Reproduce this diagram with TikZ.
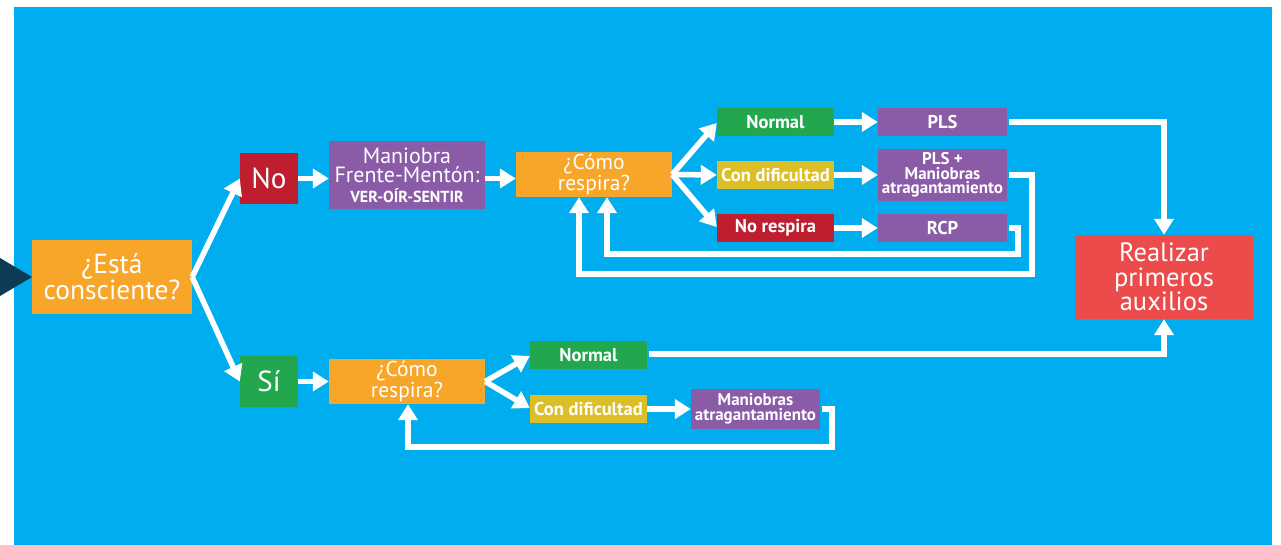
\documentclass[tikz,border=0pt]{standalone}
\usepackage{fontspec}
\setmainfont{PT Sans}
\usetikzlibrary{arrows.meta}
\definecolor{bgblue}{HTML}{00AEEF}
\definecolor{corange}{HTML}{F8A62A}
\definecolor{cred}{HTML}{BE1E2D}
\definecolor{cgreen}{HTML}{22A74F}
\definecolor{cyellow}{HTML}{DCBF26}
\definecolor{cpurple}{HTML}{8A5BA6}
\definecolor{creal}{HTML}{EC4B4B}
\definecolor{cnavy}{HTML}{0C3B55}
\tikzset{
  box/.style 2 args={inner sep=0pt, text=white, align=center, minimum width=#1pt, minimum height=#2pt},
  big/.style={font=\fontsize{27.5}{21}\selectfont},
  yn/.style={font=\fontsize{29}{29}\selectfont},
  mid/.style={font=\fontsize{21.5}{17}\selectfont},
  lab/.style={font=\bfseries\fontsize{18.5}{18}\selectfont},
  sml/.style={font=\bfseries\fontsize{17}{14.5}\selectfont},
  arr/.style={draw=white, line width=5.5pt, -{Triangle[width=19pt,length=16pt]}},
  fb/.style={draw=white, line width=5.5pt, shorten <=1.5pt, -{Triangle[width=19pt,length=16pt]}},
}
\begin{document}
\begin{tikzpicture}[x=1pt,y=-1pt]
\useasboundingbox (0,0) rectangle (1281,545);
\fill[white] (0,0) rectangle (1281,545);
\fill[bgblue] (14,7) rectangle (1272,545);
\fill[cnavy] (0,258) -- (32,277) -- (0,296) -- cycle;

% nodes
\node[box={160}{74}, fill=corange, big] (esta) at (112,277) {¿Está\\consciente?};
\node[box={58}{51}, fill=cred, yn] (no) at (269,178.5) {No};
\node[box={58}{51}, fill=cgreen, yn] (si) at (269,381.5) {Sí};
\node[box={156}{68}, fill=cpurple, font=\fontsize{22}{19.5}\selectfont] (man) at (407,175)
  {Maniobra\\Frente-Mentón:\\{\bfseries\fontsize{16}{19}\selectfont VER-OÍR-SENTIR}};
\node[box={156}{45}, fill=corange, mid] (como1) at (594,174.5) {¿Cómo\\respira?};
\node[box={117}{28}, fill=cgreen, lab] (normal1) at (775.5,122) {Normal};
\node[box={117}{28}, fill=cyellow, lab] (dif1) at (775.5,175) {Con dificultad};
\node[box={117}{28}, fill=cred, lab] (nores) at (775.5,228) {No respira};
\node[box={129}{28}, fill=cpurple, lab] (pls) at (942.5,122) {PLS};
\node[box={129}{52}, fill=cpurple, sml] (plsman) at (942.5,175) {PLS +\\Maniobras\\atragantamiento};
\node[box={129}{28}, fill=cpurple, lab] (rcp) at (942.5,228) {RCP};
\node[box={178}{84}, fill=creal, font=\fontsize{26.5}{24.5}\selectfont] (real) at (1164,277) {Realizar\\primeros\\auxilios};
\node[box={156}{45}, fill=corange, mid] (como2) at (407,381.5) {¿Cómo\\respira?};
\node[box={117}{28}, fill=cgreen, lab] (normal2) at (588.5,355) {Normal};
\node[box={117}{28}, fill=cyellow, lab] (dif2) at (588.5,409) {Con dificultad};
\node[box={129}{40}, fill=cpurple, sml] (man2) at (755.5,409) {Maniobras\\atragantamiento};

% connectors
\draw[arr] (esta.east) -- (no.west);
\draw[arr] (esta.east) -- (si.west);
\draw[arr] (no.east) -- (no.east -| man.west);
\draw[arr] (no.east -| man.east) -- (no.east -| como1.west);
\draw[arr] (como1.east) -- ([yshift=-1pt]normal1.west);
\draw[arr] (como1.east) -- (dif1.west);
\draw[arr] (como1.east) -- ([yshift=1pt]nores.west);
\draw[arr] (normal1.east) -- (pls.west);
\draw[arr] (dif1.east) -- (plsman.west);
\draw[arr] (nores.east) -- (rcp.west);
\draw[fb] (pls.east) -| (real.north);
\draw[fb] (plsman.east) -| (1032,274) -| ([xshift=-15pt]como1.south);
\draw[fb] (rcp.east) -| (1018,254) -| ([xshift=13pt]como1.south);
\draw[arr] (si.east) -- (como2.west);
\draw[arr] (como2.east) -- ([yshift=-1pt]normal2.west);
\draw[arr] (como2.east) -- ([yshift=1pt]dif2.west);
\draw[arr] (dif2.east) -- (man2.west);
\draw[fb] ([yshift=1pt]normal2.east) -| (real.south);
\draw[fb] (man2.east) -| (832,447) -| ([xshift=1pt]como2.south);
\end{tikzpicture}
\end{document}
